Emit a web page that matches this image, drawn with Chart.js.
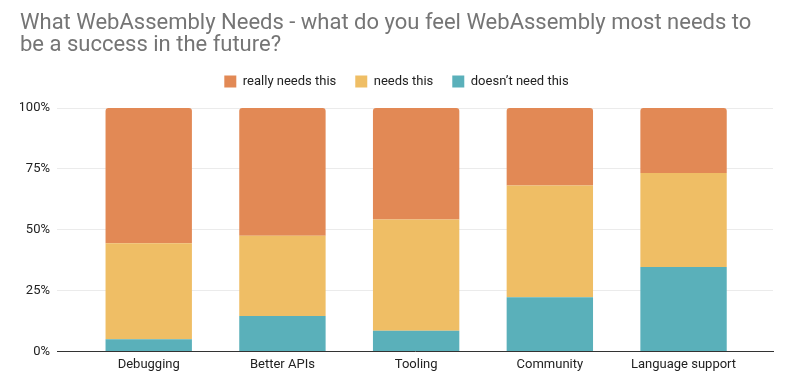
<!DOCTYPE html>
<html>
<head>
<meta charset="utf-8">
<script src="https://cdn.jsdelivr.net/npm/chart.js@4"></script>
<style>
  html, body { margin: 0; padding: 0; background: #fff; }
  #wrap { width: 790px; height: 390px; }
</style>
</head>
<body>
<div id="wrap"><canvas id="needsChart"></canvas></div>
<script>
// Survey data (percent of respondents)
const categories = ['Debugging', 'Better APIs', 'Tooling', 'Community', 'Language support'];
const reallyNeeds = [55.6, 52.5, 45.8, 31.8, 26.7];
const needs = [39.4, 33.0, 45.7, 46.0, 38.6];
const doesntNeed = [5.0, 14.5, 8.5, 22.2, 34.7];
const yTicks = [0, 25, 50, 75, 100];

Chart.defaults.font.family = 'Roboto';
Chart.defaults.color = '#222';

function toPoints(values) {
    return values.map((v, i) => ({ x: i, y: v }));
}

// push the plot area a bit further below the legend row
const legendGap = {
    id: 'legendGap',
    afterInit(chart) {
        const legend = chart.legend;
        if (!legend) return;
        const fit = legend.fit;
        legend.fit = function () {
            fit.call(this);
            this.height += 10;
        };
    }
};

document.addEventListener('DOMContentLoaded', () => {
    const ctx = document.getElementById('needsChart').getContext('2d');
    new Chart(ctx, {
        type: 'bar',
        data: {
            datasets: [{
                label: 'doesn’t need this',
                data: toPoints(doesntNeed),
                backgroundColor: '#5ab0ba',
                borderWidth: 0
            }, {
                label: 'needs this',
                data: toPoints(needs),
                backgroundColor: '#efbe65',
                borderWidth: 0
            }, {
                label: 'really needs this',
                data: toPoints(reallyNeeds),
                backgroundColor: '#e28955',
                borderWidth: 0,
                borderRadius: { topLeft: 3, topRight: 3 }
            }]
        },
        plugins: [legendGap],
        options: {
            responsive: true,
            maintainAspectRatio: false,
            animation: false,
            categoryPercentage: 1,
            barPercentage: 0.646,
            layout: { padding: { left: 20, right: 17, top: 0, bottom: 11 } },
            plugins: {
                title: {
                    display: true,
                    text: ['What WebAssembly Needs - what do you feel WebAssembly most needs to',
                           'be a success in the future?'],
                    align: 'start',
                    color: '#757575',
                    font: { size: 22, weight: 'normal', lineHeight: 1 },
                    padding: { top: 12, bottom: 0 }
                },
                legend: {
                    reverse: true,
                    labels: {
                        boxWidth: 12,
                        boxHeight: 12,
                        padding: 19,
                        color: '#222',
                        font: { size: 13 }
                    }
                },
                tooltip: { enabled: false }
            },
            scales: {
                x: {
                    type: 'linear',
                    stacked: true,
                    offset: false,
                    min: -0.686,
                    max: 4.669,
                    afterBuildTicks: (axis) => {
                        axis.ticks = categories.map((c, i) => ({ value: i }));
                    },
                    ticks: {
                        autoSkip: false,
                        maxRotation: 0,
                        padding: 6,
                        color: '#222',
                        font: { size: 13 },
                        callback: (v) => categories[v]
                    },
                    grid: { display: false, drawTicks: false },
                    border: { display: true, color: '#333', width: 1 }
                },
                y: {
                    stacked: true,
                    min: 0,
                    max: 100,
                    afterBuildTicks: (axis) => {
                        axis.ticks = yTicks.map(v => ({ value: v }));
                    },
                    afterFit: (axis) => {
                        axis.width = 37;
                    },
                    ticks: {
                        padding: 7,
                        color: '#222',
                        font: { size: 13 },
                        callback: (v) => v + '%'
                    },
                    grid: { color: '#ebebeb', drawTicks: false },
                    border: { display: false }
                }
            }
        }
    });
});
</script>
</body>
</html>
